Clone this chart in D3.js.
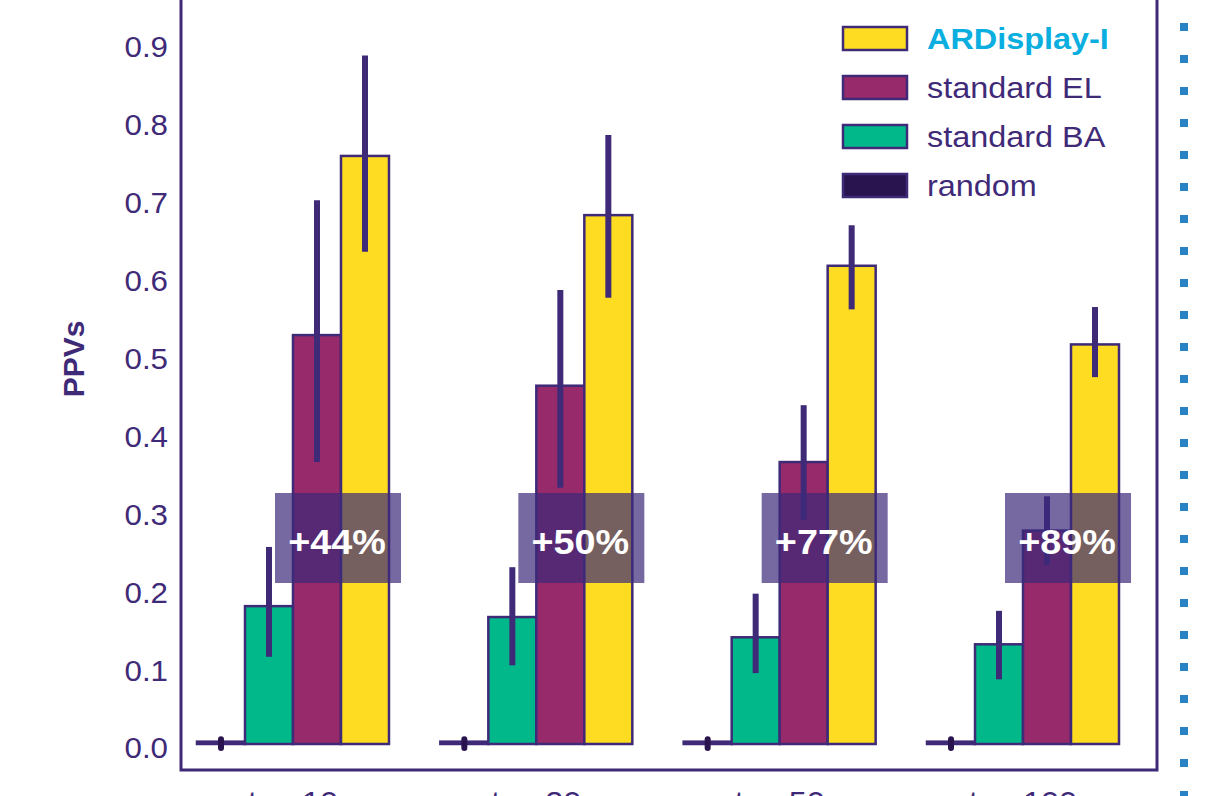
<!DOCTYPE html>
<html><head><meta charset="utf-8">
<script src="https://cdn.jsdelivr.net/npm/d3@7"></script>
<style>body{margin:0;background:#fff;overflow:hidden}svg{display:block}text{font-family:"Liberation Sans",Arial,sans-serif}</style>
</head><body>
<svg id="c" width="1225" height="796"></svg>
<script>
const categories = ["top 10", "top 20", "top 50", "top 100"];
const methods = ["random", "standard BA", "standard EL", "ARDisplay-I"];
const legendOrder = ["ARDisplay-I", "standard EL", "standard BA", "random"];
const randomVals = [0.003, 0.003, 0.003, 0.003];
const randomLo = [0.0, 0.0, 0.0, 0.0];
const randomHi = [0.006, 0.006, 0.006, 0.006];
const baVals = [0.177, 0.163, 0.137, 0.128];
const baLo = [0.112, 0.101, 0.091, 0.083];
const baHi = [0.253, 0.227, 0.193, 0.171];
const elVals = [0.525, 0.460, 0.362, 0.274];
const elLo = [0.362, 0.329, 0.288, 0.230];
const elHi = [0.698, 0.583, 0.435, 0.318];
const arVals = [0.755, 0.679, 0.614, 0.513];
const arLo = [0.632, 0.573, 0.558, 0.471];
const arHi = [0.884, 0.782, 0.666, 0.561];
const gains = ["+44%", "+50%", "+77%", "+89%"];
const yTicks = [0.0, 0.1, 0.2, 0.3, 0.4, 0.5, 0.6, 0.7, 0.8, 0.9];

const colors = {"random":"#2a1450","standard BA":"#00b88a","standard EL":"#972a6a","ARDisplay-I":"#fddc21"};
const ink = "#3f2a78";
const series = {
  "random":{v:randomVals,lo:randomLo,hi:randomHi},
  "standard BA":{v:baVals,lo:baLo,hi:baHi},
  "standard EL":{v:elVals,lo:elLo,hi:elHi},
  "ARDisplay-I":{v:arVals,lo:arLo,hi:arHi}
};
const SX = 1.08;

const svg = d3.select("#c");
const y = d3.scaleLinear().domain([0, 0.9]).range([744, 43]);
const x0 = d3.scaleBand().domain(categories).range([197, 1119]).paddingInner(0.211).paddingOuter(0);
const x1 = d3.scaleBand().domain(methods).range([0, x0.bandwidth()]);

// frame
svg.append("path").attr("d","M181,-5 L181,770 L1157,770 L1157,-5")
  .attr("fill","none").attr("stroke",ink).attr("stroke-width",3);

// dotted blue line
svg.append("line").attr("x1",1184).attr("x2",1184).attr("y1",23).attr("y2",800)
  .attr("stroke","#2a82c6").attr("stroke-width",8).attr("stroke-dasharray","8 24");

// y tick labels
svg.append("g").selectAll("text").data(yTicks).join("text")
  .attr("transform",d=>`translate(168,${y(d)+4}) scale(${SX},1)`).attr("dy","0.36em").attr("text-anchor","end")
  .attr("font-size",29).attr("fill",ink).text(d=>d.toFixed(1));

svg.append("text").attr("transform","translate(84,359) rotate(-90)")
  .attr("text-anchor","middle").attr("font-size",30).attr("font-weight","bold")
  .attr("fill",ink).text("PPVs");

// bars
const g = svg.append("g");
categories.forEach((c,i)=>{
  methods.forEach(m=>{
    const s = series[m];
    const bx = x0(c)+x1(m);
    g.append("rect").attr("x",bx).attr("y",y(s.v[i])).attr("width",x1.bandwidth())
      .attr("height",Math.max(2,y(0)-y(s.v[i]))).attr("fill",colors[m])
      .attr("stroke",ink).attr("stroke-width",2.5);
  });
});
// error bars
categories.forEach((c,i)=>{
  methods.forEach(m=>{
    const s = series[m];
    const cx = x0(c)+x1(m)+x1.bandwidth()/2;
    g.append("line").attr("x1",cx).attr("x2",cx).attr("y1",y(s.lo[i])+ (m==="random"?4:0)).attr("y2",y(s.hi[i]))
      .attr("stroke", m==="random" ? "#2a1450" : ink).attr("stroke-width",6)
      .attr("stroke-linecap", m==="random" ? "round" : "butt");
  });
});

// overlay boxes
categories.forEach((c,i)=>{
  const bx = x0(c)+78;
  svg.append("rect").attr("x",bx).attr("y",493).attr("width",126).attr("height",90)
    .attr("fill","#3c2a7a").attr("fill-opacity",0.7);
  svg.append("text").attr("transform",`translate(${bx+62},554) scale(${SX},1)`).attr("text-anchor","middle")
    .attr("font-size",35).attr("font-weight","bold").attr("fill","#fff").text(gains[i]);
});

// category labels
svg.append("g").selectAll("text").data(categories).join("text")
  .attr("transform",d=>`translate(${x0(d)+x0.bandwidth()/2},812) scale(${SX},1)`).attr("text-anchor","middle")
  .attr("font-size",30).attr("fill",ink).text(d=>d);

// legend
const lg = svg.append("g");
legendOrder.forEach((m,i)=>{
  const yy = 27 + i*49;
  lg.append("rect").attr("x",843).attr("y",yy).attr("width",64).attr("height",23)
    .attr("fill",colors[m]).attr("stroke",ink).attr("stroke-width",2.5);
  lg.append("text").attr("transform",`translate(927,${yy+11.5}) scale(${SX},1)`).attr("dy","0.36em")
    .attr("font-size",30)
    .attr("font-weight", m==="ARDisplay-I" ? "bold" : "normal")
    .attr("fill", m==="ARDisplay-I" ? "#0aaedf" : ink).text(m);
});
</script>
</body></html>
